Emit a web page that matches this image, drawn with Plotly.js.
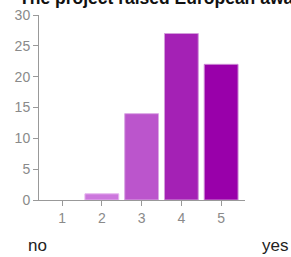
<!DOCTYPE html>
<html><head><meta charset="utf-8">
<script src="https://cdn.plot.ly/plotly-3.0.1.min.js"></script>
<style>html,body{margin:0;padding:0;background:#fff}#chart{width:291px;height:257px}</style>
</head><body><div id="chart"></div>
<script>
const categories = [1, 2, 3, 4, 5];
const counts = [0, 1, 14, 27, 22];
const barColors = ['#dd99ee', '#cc77dd', '#bb55cc', '#a421b5', '#9900aa'];
const edgeColors = ['#eeccf5', '#e5b3ee', '#dba8e5', '#d39ddb', '#cc88d5'];
const titleText = 'The project raised European awareness';
const leftLabel = 'no';
const rightLabel = 'yes';

const trace = {
  type: 'bar', x: categories, y: counts, width: 0.85,
  marker: {color: barColors, line: {color: edgeColors, width: counts.map(v => v > 0 ? 1 : 0)}},
  hoverinfo: 'none'
};
const tickFont = {family: 'Liberation Sans, Arial, sans-serif', size: 14, color: '#8a8a8a'};
const layout = {
  width: 291, height: 257,
  margin: {l: 39, r: 46, t: 15, b: 57},
  paper_bgcolor: '#fff', plot_bgcolor: '#fff',
  showlegend: false,
  xaxis: {range: [0.42, 5.6], tickvals: categories, ticktext: categories.map(String),
    showgrid: false, zeroline: false, showline: true, linecolor: '#999', linewidth: 1,
    ticks: 'outside', ticklen: 5, tickcolor: '#999', tickfont: tickFont, fixedrange: true},
  yaxis: {range: [0, 30], tickvals: [0, 5, 10, 15, 20, 25, 30], showgrid: false, zeroline: false,
    showline: true, linecolor: '#999', linewidth: 1, ticks: 'outside', ticklen: 5, tickcolor: '#999',
    tickfont: tickFont, ticklabelstandoff: 0, fixedrange: true},
  annotations: [
    {text: '<b>' + titleText + '</b>', xref: 'paper', yref: 'paper', x: -22/206, y: 1 + 5/185,
      xanchor: 'left', yanchor: 'bottom', showarrow: false,
      font: {family: 'Liberation Sans, Arial, sans-serif', size: 17.5, color: '#111'}},
    {text: leftLabel, xref: 'paper', yref: 'paper', x: -13/206, y: -45/185, xanchor: 'left', yanchor: 'middle', showarrow: false,
      font: {family: 'Liberation Sans, Arial, sans-serif', size: 17, color: '#222'}},
    {text: rightLabel, xref: 'paper', yref: 'paper', x: 251/206, y: -45/185, xanchor: 'right', yanchor: 'middle', showarrow: false,
      font: {family: 'Liberation Sans, Arial, sans-serif', size: 17, color: '#222'}}
  ]
};
Plotly.newPlot('chart', [trace], layout, {displayModeBar: false, staticPlot: true});
</script></body></html>
